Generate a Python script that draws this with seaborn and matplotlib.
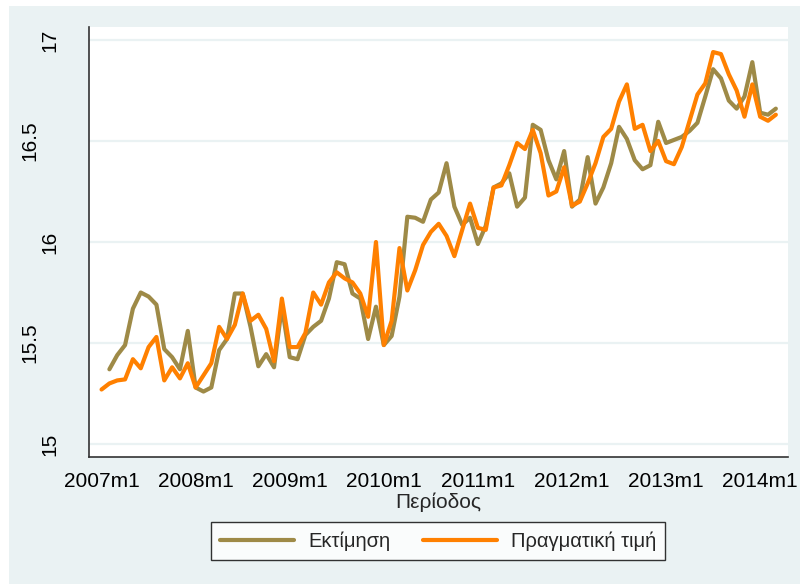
import numpy as np
import pandas as pd
import matplotlib
matplotlib.use("Agg")
import matplotlib.pyplot as plt
from matplotlib.patches import Rectangle
from matplotlib.transforms import ScaledTranslation
import seaborn as sns

# ---- data ----
periods = [f"{2007 + i // 12}m{i % 12 + 1}" for i in range(87)]

estimate = [np.nan,
    15.37, 15.44, 15.49, 15.67, 15.75, 15.73, 15.69, 15.47, 15.43, 15.37, 15.56,
    15.28, 15.26, 15.28, 15.465, 15.52, 15.745, 15.745, 15.58, 15.385, 15.445, 15.38, 15.68,
    15.43, 15.42, 15.54, 15.58, 15.61, 15.72, 15.90, 15.89, 15.745, 15.72, 15.52, 15.68,
    15.49, 15.535, 15.73, 16.125, 16.12, 16.10, 16.21, 16.245, 16.39, 16.175, 16.085, 16.12,
    15.99, 16.08, 16.27, 16.29, 16.34, 16.175, 16.22, 16.58, 16.555, 16.405, 16.31, 16.45,
    16.175, 16.21, 16.42, 16.19, 16.27, 16.39, 16.57, 16.51, 16.405, 16.36, 16.38, 16.595,
    16.49, 16.505, 16.52, 16.55, 16.59, 16.72, 16.855, 16.81, 16.70, 16.66, 16.72, 16.89,
    16.64, 16.63, 16.66]

actual = [
    15.27, 15.30, 15.315, 15.32, 15.42, 15.375, 15.48, 15.53, 15.315, 15.38, 15.325, 15.40,
    15.28, 15.34, 15.40, 15.58, 15.52, 15.59, 15.745, 15.61, 15.64, 15.57, 15.41, 15.72,
    15.48, 15.48, 15.55, 15.75, 15.69, 15.80, 15.85, 15.82, 15.80, 15.745, 15.63, 16.00,
    15.49, 15.61, 15.97, 15.76, 15.86, 15.985, 16.05, 16.09, 16.03, 15.93, 16.06, 16.19,
    16.07, 16.06, 16.27, 16.28, 16.38, 16.49, 16.46, 16.555, 16.44, 16.23, 16.25, 16.37,
    16.18, 16.20, 16.29, 16.39, 16.52, 16.56, 16.695, 16.78, 16.56, 16.58, 16.45, 16.50,
    16.40, 16.385, 16.47, 16.60, 16.73, 16.785, 16.94, 16.93, 16.83, 16.75, 16.62, 16.78,
    16.62, 16.60, 16.63]

series_names = ["Εκτίμηση", "Πραγματική τιμή"]
x_ticklabels = ["2007m1", "2008m1", "2009m1", "2010m1", "2011m1", "2012m1", "2013m1", "2014m1"]
y_ticks = [15, 15.5, 16, 16.5, 17]
y_ticklabels = ["15", "15.5", "16", "16.5", "17"]

# ---- style ----
OLIVE = "#9E8A47"
ORANGE = "#FF8000"
BG = "#EAF2F3"

sns.set_style("white")
plt.rcParams["font.family"] = ["Liberation Sans", "DejaVu Sans"]

df = pd.DataFrame({"t": np.arange(len(periods)),
                   series_names[0]: estimate,
                   series_names[1]: actual})
long = df.melt(id_vars="t", var_name="series", value_name="value").dropna()

fig = plt.figure(figsize=(8, 5.84), dpi=100, facecolor="white")
fig.patches.append(Rectangle((9 / 800, 0), 1 - 9 / 800, 1 - 6 / 584,
                             transform=fig.transFigure, facecolor=BG,
                             edgecolor="none", zorder=-10))
ax = fig.add_axes([89 / 800, 1 - 457 / 584, (788 - 89) / 800, (457 - 27) / 584])
ax.set_facecolor("white")

sns.lineplot(data=long, x="t", y="value", hue="series", hue_order=series_names,
             palette=[OLIVE, ORANGE], linewidth=3, ax=ax, legend=False)

ax.set_xlim(-1.6, 87.55)
ax.set_ylim(14.936, 17.064)

xt = [periods.index(l) for l in x_ticklabels]
ax.set_xticks(xt)
ax.set_xticklabels(x_ticklabels, fontsize=15)
ax.set_yticks(y_ticks)
ax.set_yticklabels(y_ticklabels, fontsize=15, rotation=90, va="center")
ax.grid(axis="y", color=BG, linewidth=1.6)
ax.set_axisbelow(True)

for s in ["top", "right"]:
    ax.spines[s].set_visible(False)
for s in ["left", "bottom"]:
    ax.spines[s].set_color("#333333")
    ax.spines[s].set_linewidth(1.2)
ax.tick_params(axis="both", direction="out", length=6, width=1, color="#333333",
               labelcolor="black")
ax.tick_params(axis="x", pad=5)
ax.tick_params(axis="y", pad=15)

# longer labels (with decimal point) sit further left, as in the reference
for lab in ax.get_yticklabels():
    if "." in lab.get_text():
        lab.set_transform(lab.get_transform() +
                          ScaledTranslation(-20 / 100, 0, fig.dpi_scale_trans))

ax.set_xlabel("Περίοδος", fontsize=15, labelpad=1)
ax.set_ylabel("")

handles = [plt.Line2D([], [], color=OLIVE, linewidth=3),
           plt.Line2D([], [], color=ORANGE, linewidth=3)]
leg = fig.legend(handles, series_names, loc="center",
                 bbox_to_anchor=(438 / 800, 1 - 541 / 584), ncol=2,
                 fontsize=14.5, frameon=True, fancybox=False, handlelength=3.7,
                 handletextpad=0.7, columnspacing=1.6, borderpad=0.45)
leg.get_frame().set_edgecolor("black")
leg.get_frame().set_linewidth(1.0)
leg.get_frame().set_facecolor("white")

fig.savefig("out.png", dpi=100, facecolor=fig.get_facecolor())
